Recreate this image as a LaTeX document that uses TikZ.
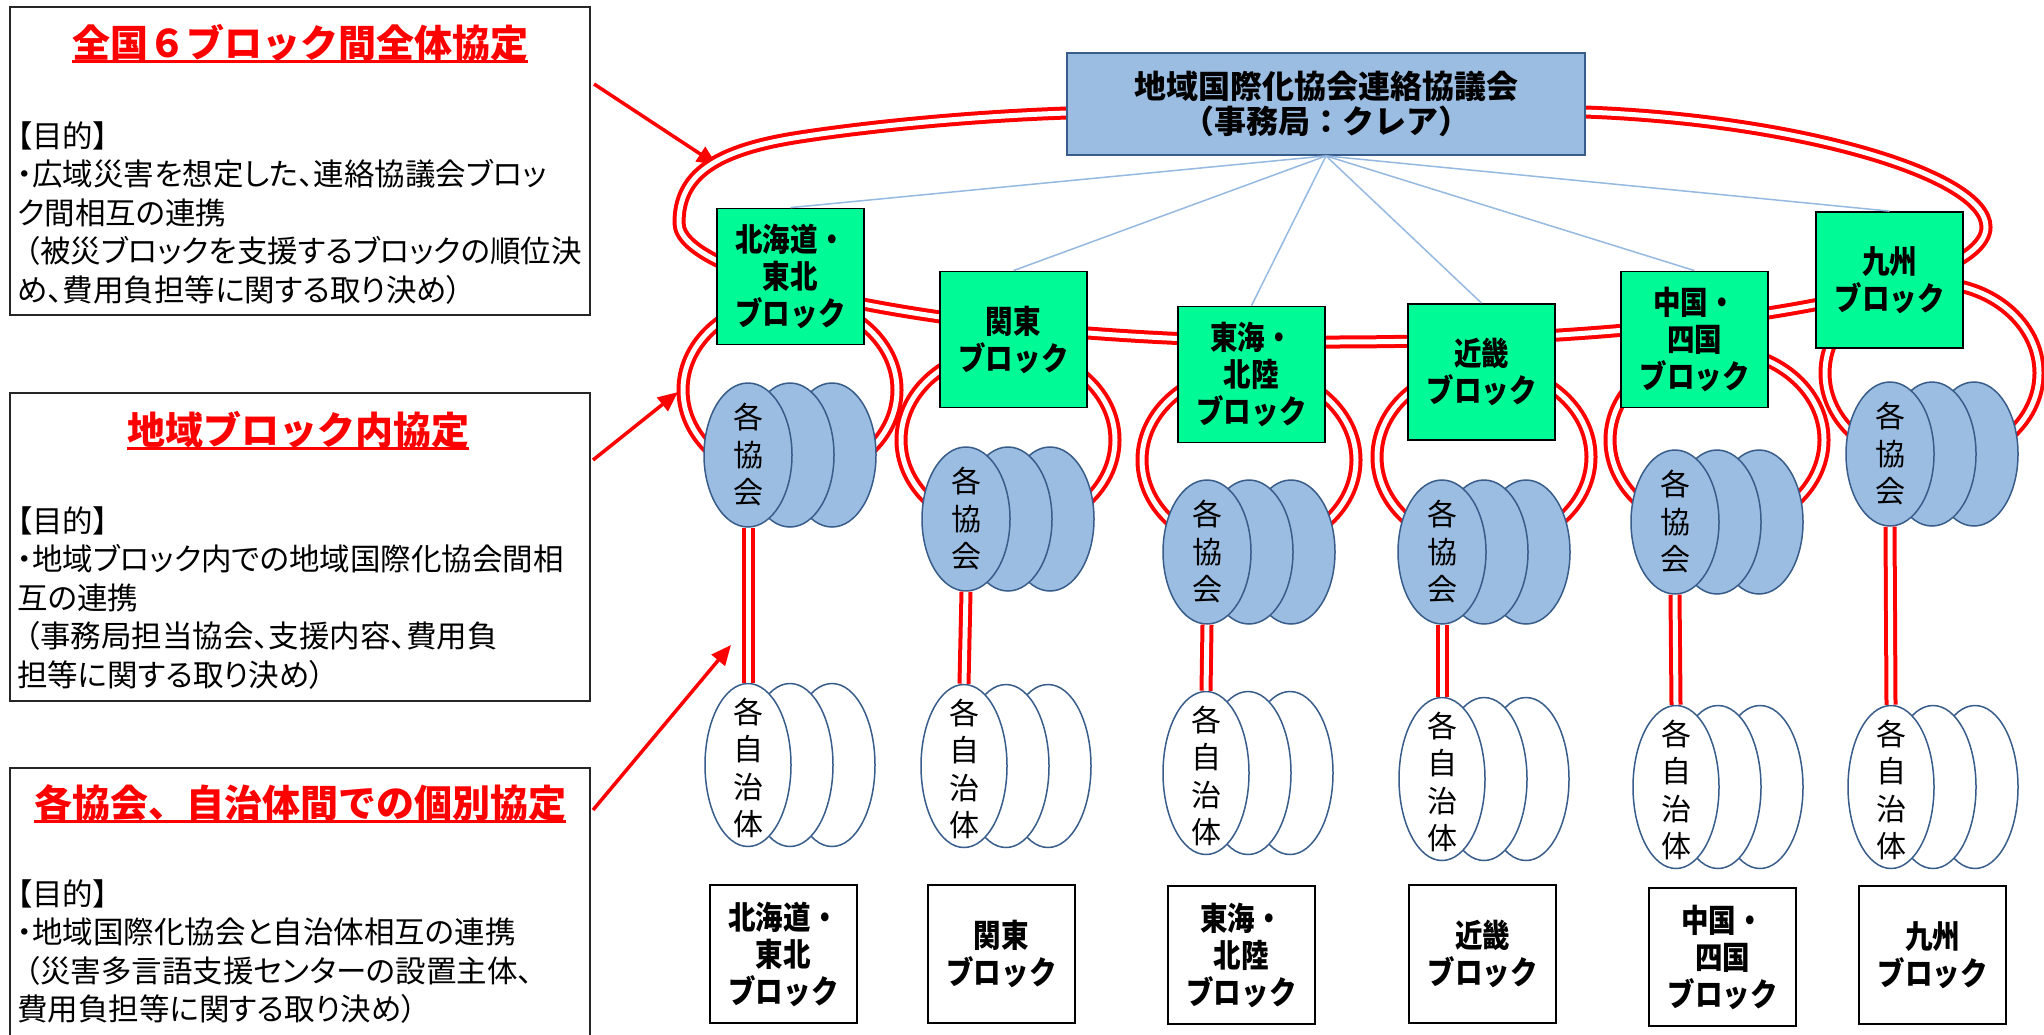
\documentclass[tikz,border=0pt]{standalone}
\usepackage{fontspec}
\newfontfamily\jp{Noto Sans CJK JP}
\newfontfamily\jpp[RawFeature=+palt]{Noto Sans CJK JP}
\newfontfamily\jpc[FakeStretch=0.86]{Noto Sans CJK JP}
\usetikzlibrary{shapes.geometric,arrows.meta}
\definecolor{gfill}{RGB}{0,250,150}
\definecolor{bfill}{RGB}{155,189,226}
\definecolor{bdraw}{RGB}{56,93,138}
\definecolor{thinb}{RGB}{150,185,225}
\newcommand\bstack[3]{%
  \node[bell] (#1c) at (#2+84,#3) {};
  \node[bell] (#1b) at (#2+42,#3) {};
  \node[bell] (#1) at (#2,#3) {};
  \node[elab] (#1t) at (#2,#3) {各\\協\\会};}
\newcommand\wstack[3]{%
  \node[well] (#1c) at (#2+84,#3) {};
  \node[well] (#1b) at (#2+42,#3) {};
  \node[well] (#1) at (#2,#3) {};
  \node[elab] (#1t) at (#2,#3+3) {各\\自\\治\\体};}
\begin{document}
\begin{tikzpicture}[x=1pt,y=-1pt,
  redd/.style={draw=red, line width=4pt, double=white, double distance=5pt},
  gbox/.style={draw=black, line width=1.8pt, fill=gfill, minimum width=147pt, minimum height=136pt, inner sep=0pt, align=center, font=\jpc\bfseries\fontsize{32}{37}\selectfont},
  wbox/.style={draw=black, line width=1.8pt, fill=white, minimum width=147pt, minimum height=138pt, inner sep=0pt, align=center, font=\jpc\bfseries\fontsize{32}{37}\selectfont},
  bell/.style={ellipse, draw=bdraw, line width=1.5pt, fill=bfill, minimum width=88pt, minimum height=144pt, inner sep=0pt},
  well/.style={ellipse, draw=bdraw, line width=1.5pt, fill=white, minimum width=86pt, minimum height=163pt, inner sep=0pt},
  elab/.style={font=\jp\fontsize{30}{37.5}\selectfont, align=center, inner sep=0pt},
  infobox/.style={draw=black!85, line width=2pt, inner sep=0pt},
  ttl/.style={font=\jp\bfseries\fontsize{38}{40}\selectfont, text=red, inner sep=0pt},
  bodyt/.style={font=\jpp\fontsize{30.5}{37}\selectfont, anchor=base west, inner sep=0pt},
  thinl/.style={draw=thinb, line width=1.5pt},
  rarr/.style={draw=red, line width=3.5pt, -{Triangle[length=20pt,width=17pt]}},
  uline/.style={draw=red, line width=2.5pt}
]
\useasboundingbox (0,0) rectangle (2044,1034);
\fill[white] (0,0) rectangle (2044,1034);

% ---- left info boxes ----
\node[infobox, minimum width=580pt, minimum height=308pt] (box1) at (300,161) {};
\node[infobox, minimum width=580pt, minimum height=308pt] (box2) at (300,547) {};
\node[infobox, minimum width=580pt, minimum height=270pt] (box3) at (300,903) {};

\node[ttl] (t1) at (300,43) {全国６ブロック間全体協定};
\node[ttl] (t2) at (298,430) {地域ブロック内協定};
\node[ttl] (t3) at (300,803) {各協会、自治体間での個別協定};
\draw[uline] ([yshift=-4pt]t1.base west) -- ([yshift=-4pt]t1.base east);
\draw[uline] ([yshift=-4pt]t2.base west) -- ([yshift=-4pt]t2.base east);
\draw[uline] ([yshift=-4pt]t3.base west) -- ([yshift=-4pt]t3.base east);

\foreach \t [count=\i] in {【目的】,・広域災害を想定した、連絡協議会ブロッ,ク間相互の連携,{\hspace{0.25em}（被災ブロックを支援するブロックの順位決},め、費用負担等に関する取り決め）}
  \node[bodyt] (pa\i) at (17,147+38.5*\i-38.5) {\t};
\foreach \t [count=\i] in {【目的】,・地域ブロック内での地域国際化協会間相,互の連携,{\hspace{0.25em}（事務局担当協会、支援内容、費用負},担等に関する取り決め）}
  \node[bodyt] (pb\i) at (17,532+38.5*\i-38.5) {\t};
\foreach \t [count=\i] in {【目的】,・地域国際化協会と自治体相互の連携,{\hspace{0.25em}（災害多言語支援センターの設置主体、},費用負担等に関する取り決め）}
  \node[bodyt] (pc\i) at (17,905+38.5*\i-38.5) {\t};

% ---- arrows ----
\coordinate (s1) at (594,84);  \coordinate (e1) at (717,165);
\coordinate (s2) at (593,460); \coordinate (e2) at (678,392);
\coordinate (s3) at (593,810); \coordinate (e3) at (731,645);
\draw[rarr] (s1) -- (e1);
\draw[rarr] (s2) -- (e2);
\draw[rarr] (s3) -- (e3);

% ---- red loops (behind) ----
\draw[redd] (679,223) .. controls (679,175) and (715,150) .. (800,137)
  .. controls (880,124.8) and (980,116) .. (1067,113)
  .. controls (1250,105) and (1400,105) .. (1585,112)
  .. controls (1800,120) and (1986,175) .. (1986,227)
  .. controls (1986,290) and (1700,342) .. (1332,342)
  .. controls (950,342) and (679,280) .. (679,223) -- cycle;
\draw[redd] (790,390) ellipse [x radius=107pt, y radius=90pt];
\draw[redd] (1008,440) ellipse [x radius=107pt, y radius=90pt];
\draw[redd] (1249,460) ellipse [x radius=107pt, y radius=90pt];
\draw[redd] (1484,457) ellipse [x radius=107pt, y radius=90pt];
\draw[redd] (1717,440) ellipse [x radius=107pt, y radius=90pt];
\draw[redd] (1932,373) ellipse [x radius=107pt, y radius=90pt];

% ---- top box ----
\node[draw=bdraw, line width=1.8pt, fill=bfill, minimum width=518pt, minimum height=102pt, inner sep=0pt, align=center, font=\jp\bfseries\fontsize{32}{35}\selectfont] (top) at (1326,104) {地域国際化協会連絡協議会\\（事務局：クレア）};

% ---- green boxes ----
\node[gbox] (g1) at (790.5,276.5) {北海道・\\東北\\ブロック};
\node[gbox] (g2) at (1013.5,339.5) {関東\\ブロック};
\node[gbox] (g3) at (1251.5,374.5) {東海・\\北陸\\ブロック};
\node[gbox] (g4) at (1481.5,372) {近畿\\ブロック};
\node[gbox] (g5) at (1694.5,339.5) {中国・\\四国\\ブロック};
\node[gbox] (g6) at (1889.5,280) {九州\\ブロック};

\foreach \g in {g1,g2,g3,g4,g5,g6} \draw[thinl] (top.south) -- (\g.north);

% ---- stacks ----
\bstack{a1}{748}{455}
\bstack{a2}{966}{519}
\bstack{a3}{1207}{552}
\bstack{a4}{1442}{552}
\bstack{a5}{1675}{522}
\bstack{a6}{1890}{454}

\wstack{w1}{748}{765}
\wstack{w2}{964}{766}
\wstack{w3}{1206}{773}
\wstack{w4}{1442}{779}
\wstack{w5}{1676}{787}
\wstack{w6}{1891}{787}

\foreach \i in {1,...,6} \draw[redd] (a\i.south) -- (w\i.north);

% ---- bottom label boxes ----
\node[wbox] (k1) at (783.5,954) {北海道・\\東北\\ブロック};
\node[wbox] (k2) at (1001.5,954) {関東\\ブロック};
\node[wbox] (k3) at (1241.5,955) {東海・\\北陸\\ブロック};
\node[wbox] (k4) at (1482.5,954) {近畿\\ブロック};
\node[wbox] (k5) at (1722.5,957) {中国・\\四国\\ブロック};
\node[wbox] (k6) at (1932.5,955) {九州\\ブロック};
\end{tikzpicture}
\end{document}
